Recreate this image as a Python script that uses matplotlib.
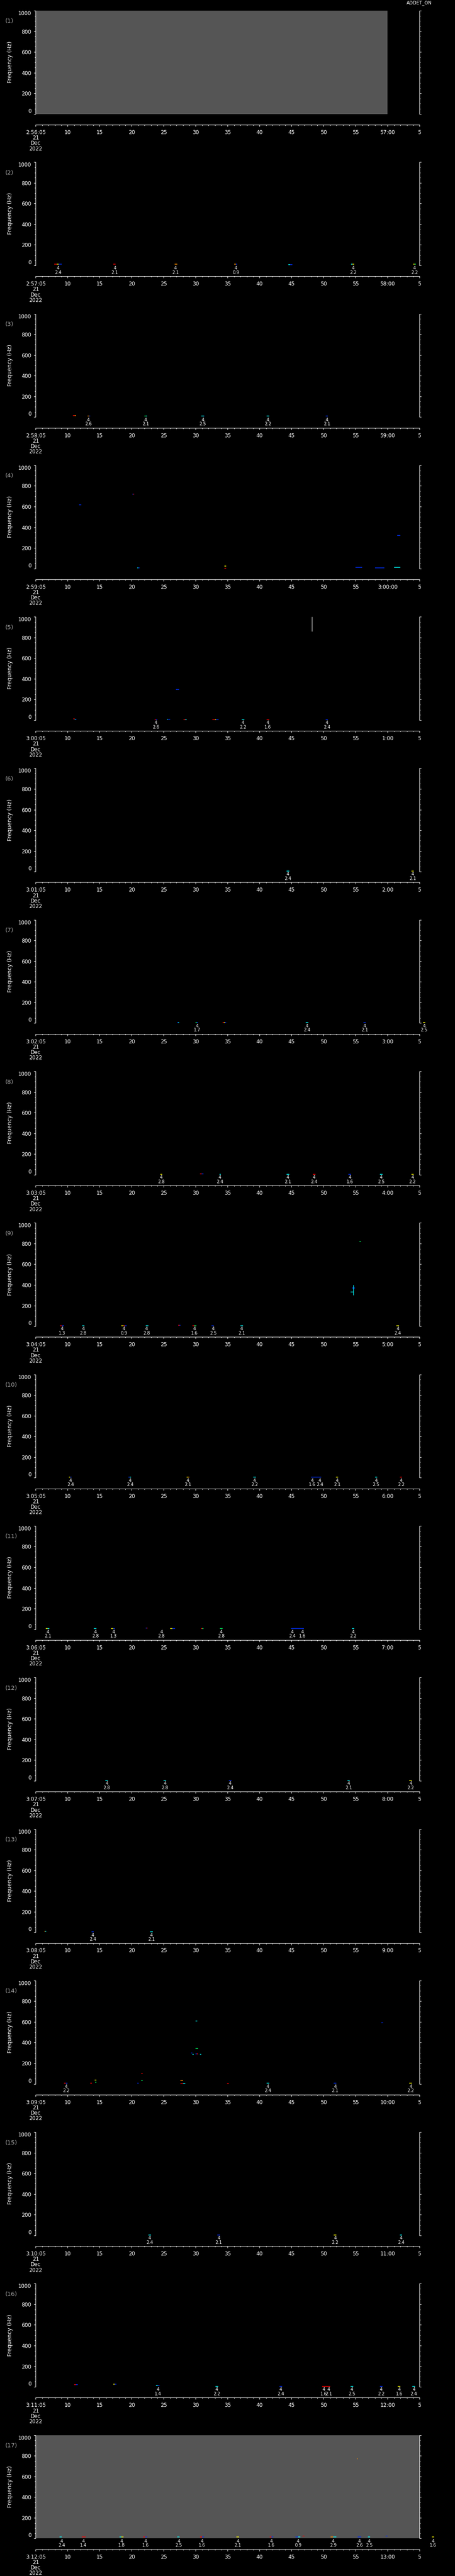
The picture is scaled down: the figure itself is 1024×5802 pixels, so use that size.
import matplotlib
matplotlib.use("Agg")
import matplotlib.pyplot as plt
from matplotlib.ticker import FixedLocator, MultipleLocator
from matplotlib.transforms import blended_transform_factory

# Figure geometry (pixels)
W, H = 1024, 5802
N_PANELS = 17
SLOT = H / N_PANELS
X0, X1 = 80.3, 944.3

# Panel start times (each panel covers 60 s starting at hh:mm:05)
start_hours = [2, 2, 2, 2, 3, 3, 3, 3, 3, 3, 3, 3, 3, 3, 3, 3, 3]
start_minutes = [56, 57, 58, 59, 0, 1, 2, 3, 4, 5, 6, 7, 8, 9, 10, 11, 12]

freq_ticks = [0, 200, 400, 600, 800, 1000]

# no-data (grey) spans per panel, seconds from panel start
nodata = {1: (0, 55), 17: (0, 60)}

# detections: (seconds from panel start, value); every one is tagged "4"
events = {
    2: [(3.5, 2.4), (12.35, 2.1), (21.85, 2.1), (31.3, 0.9), (49.6, 2.2), (59.2, 2.2)],
    3: [(8.24, 2.6), (17.2, 2.1), (26.1, 2.5), (36.3, 2.2), (45.5, 2.1)],
    5: [(18.8, 2.6), (32.4, 2.2), (36.3, 1.6), (45.5, 2.4)],
    6: [(39.4, 2.4), (58.9, 2.1)],
    7: [(25.26, 1.7), (42.4, 2.4), (51.4, 2.1), (60.7, 2.5)],
    8: [(19.6, 2.8), (28.8, 2.4), (39.4, 2.1), (43.5, 2.4), (49.1, 1.6), (54.0, 2.5),
        (58.9, 2.2)],
    9: [(4.14, 1.3), (7.44, 2.8), (13.78, 0.9), (17.34, 2.8), (24.84, 1.6), (27.73, 2.5),
        (32.2, 2.1), (56.6, 2.4)],
    10: [(5.43, 2.4), (14.75, 2.4), (23.8, 2.1), (34.2, 2.2), (43.2, 1.6), (44.4, 2.4),
         (47.1, 2.1), (53.2, 2.5), (57.1, 2.2)],
    11: [(1.9, 2.1), (9.33, 2.8), (12.17, 1.3), (19.65, 2.8), (29.0, 2.8), (40.1, 2.4),
         (41.7, 1.6), (49.6, 2.2)],
    12: [(11.1, 2.8), (20.2, 2.8), (30.4, 2.4), (48.9, 2.1), (58.6, 2.2)],
    13: [(8.9, 2.4), (18.1, 2.1)],
    14: [(4.74, 2.2), (36.3, 2.4), (46.8, 2.1), (58.6, 2.2)],
    15: [(17.8, 2.4), (28.6, 2.1), (46.8, 2.2), (57.1, 2.4)],
    16: [(19.1, 1.4), (28.3, 2.2), (38.3, 2.4), (45.0, 1.6), (45.8, 2.1), (49.4, 2.5),
         (54.0, 2.2), (56.8, 1.6), (59.1, 2.4)],
    17: [(4.04, 2.4), (7.47, 1.4), (13.4, 1.8), (17.2, 1.6), (22.35, 2.5), (26.0, 1.6),
         (31.6, 2.1), (36.8, 1.6), (41.0, 0.9), (46.5, 2.9), (50.6, 2.6), (52.1, 2.5),
         (62.1, 1.6)],
}

# spectrogram blips: (t start, t end, frequency Hz, colour code)
blips = {
    2: [(2.9, 3.3, 12, "r"), (3.3, 3.6, 12, "y"), (3.6, 4.1, 12, "b"), (12.1, 12.5, 12, "r"),
        (21.7, 22.1, 12, "o"), (31.0, 31.3, 12, "o"), (31.3, 31.5, 12, "b"),
        (39.5, 39.8, 8, "c"), (39.8, 40.1, 10, "b"), (49.3, 49.5, 12, "c"),
        (49.5, 49.8, 12, "y"), (59.0, 59.2, 12, "y"), (59.2, 59.4, 12, "g")],
    3: [(5.8, 6.1, 12, "r"), (6.1, 6.3, 12, "o"), (8.1, 8.4, 8, "o"), (8.4, 8.5, 8, "b"),
        (17.0, 17.3, 8, "g"), (17.3, 17.4, 8, "c"), (25.9, 26.3, 8, "c"), (26.3, 26.4, 8, "b"),
        (36.1, 36.5, 8, "c"), (45.3, 45.7, 8, "b")],
    4: [(6.8, 7.1, 619, "b"), (15.1, 15.25, 721, "b"), (15.25, 15.4, 721, "r"),
        (15.9, 16.05, 8, "c"), (16.05, 16.2, 8, "b"), (29.5, 29.8, 25, "y"), (29.5, 29.8, 4, "r"),
        (50.0, 51.0, 10, "b"), (53.0, 54.5, 8, "b"), (56.0, 57.0, 12, "c"),
        (56.5, 57.0, 320, "b")],
    5: [(5.9, 6.1, 12, "r"), (6.1, 6.2, 10, "c"), (6.2, 6.4, 10, "b"), (18.6, 18.8, 5, "r"),
        (18.8, 19.0, 5, "b"), (20.5, 20.7, 10, "c"), (20.7, 21.0, 10, "b"),
        (21.9, 22.4, 296, "b"), (23.1, 23.35, 5, "r"), (23.35, 23.6, 5, "c"),
        (27.6, 28.0, 5, "r"), (28.0, 28.2, 5, "y"), (28.2, 28.6, 5, "b"),
        (32.2, 32.6, 5, "c"), (36.1, 36.5, 5, "r"), (45.3, 45.7, 5, "b")],
    6: [(39.2, 39.6, 5, "c"), (58.7, 59.1, 5, "y")],
    7: [(22.1, 22.25, 5, "b"), (22.25, 22.4, 5, "c"), (25.0, 25.2, 5, "g"), (25.2, 25.4, 5, "b"),
        (29.2, 29.4, 5, "r"), (29.4, 29.55, 5, "y"), (29.55, 29.8, 5, "b"),
        (42.2, 42.6, 5, "c"), (51.2, 51.6, 5, "b"), (60.5, 60.9, 5, "y")],
    8: [(19.5, 19.8, 5, "y"), (25.7, 25.95, 8, "r"), (25.95, 26.2, 8, "b"), (28.7, 28.95, 5, "c"),
        (39.2, 39.6, 5, "c"), (43.3, 43.7, 5, "r"), (48.9, 49.3, 5, "b"), (53.8, 54.2, 5, "c"),
        (58.7, 59.1, 5, "y")],
    9: [(3.8, 4.1, 5, "r"), (4.1, 4.4, 5, "b"), (7.25, 7.6, 5, "c"), (13.4, 13.7, 5, "y"),
        (13.7, 13.95, 5, "r"), (13.95, 14.2, 5, "b"), (17.2, 17.6, 5, "c"),
        (22.3, 22.45, 10, "r"), (22.45, 22.6, 10, "b"), (24.5, 24.8, 5, "r"),
        (24.8, 25.1, 5, "g"), (27.5, 27.8, 5, "b"), (32.0, 32.4, 5, "c"),
        (56.4, 56.8, 5, "y"), (49.2, 49.6, 330, "c"), (49.4, 49.9, 370, "b"),
        (50.6, 50.8, 820, "g")],
    10: [(5.2, 5.4, 5, "y"), (5.4, 5.6, 5, "b"), (14.5, 14.7, 5, "b"), (14.7, 14.9, 5, "c"),
         (23.6, 23.8, 5, "y"), (23.8, 24.0, 5, "o"), (34.0, 34.4, 5, "c"), (43.0, 44.6, 5, "b"),
         (46.9, 47.3, 5, "y"), (53.0, 53.4, 5, "c"), (56.9, 57.3, 5, "r")],
    11: [(1.6, 1.85, 5, "y"), (1.85, 2.1, 5, "c"), (9.1, 9.5, 5, "c"), (11.8, 12.1, 5, "y"),
         (12.1, 12.4, 5, "b"), (17.2, 17.35, 12, "b"), (17.35, 17.5, 12, "r"),
         (21.05, 21.4, 6, "y"), (21.4, 21.8, 8, "b"), (25.8, 26.0, 5, "r"),
         (26.0, 26.2, 5, "g"), (28.8, 29.2, 5, "g"), (39.9, 41.9, 5, "b"), (49.4, 49.8, 5, "c")],
    12: [(10.9, 11.3, 5, "c"), (20.0, 20.4, 5, "c"), (30.2, 30.6, 5, "b"), (48.7, 49.1, 5, "c"),
         (58.4, 58.8, 5, "y")],
    13: [(1.37, 1.5, 8, "o"), (1.5, 1.64, 8, "c"), (8.75, 9.1, 5, "b"), (17.9, 18.3, 5, "c")],
    14: [(4.4, 4.7, 5, "r"), (4.7, 5.0, 5, "b"), (8.5, 8.8, 6, "r"), (9.2, 9.5, 35, "y"),
         (9.3, 9.5, 15, "g"), (15.85, 16.1, 6, "b"), (16.5, 16.7, 103, "r"),
         (16.5, 16.7, 31, "g"), (22.6, 23.0, 31, "o"), (22.6, 23.0, 2, "r"),
         (23.0, 23.4, 2, "c"), (24.3, 24.5, 300, "b"), (24.5, 24.7, 285, "c"),
         (25.0, 25.25, 609, "c"), (25.0, 25.4, 342, "g"), (25.0, 25.2, 292, "b"),
         (25.2, 25.4, 292, "r"), (25.7, 25.9, 285, "c"), (29.9, 30.2, 2, "r"),
         (36.1, 36.5, 5, "c"), (46.6, 47.0, 5, "b"), (54.0, 54.3, 590, "b"), (58.4, 58.8, 5, "y")],
    15: [(17.6, 18.0, 5, "c"), (28.4, 28.8, 5, "b"), (46.6, 47.0, 5, "y"), (56.9, 57.3, 5, "c")],
    16: [(6.0, 6.3, 21, "r"), (6.3, 6.6, 21, "b"), (12.1, 12.35, 28, "y"),
         (12.35, 12.6, 26, "b"), (18.8, 19.1, 12, "c"), (19.1, 19.35, 12, "b"),
         (28.1, 28.5, 5, "c"), (38.1, 38.5, 5, "b"), (44.8, 46.0, 5, "r"), (49.2, 49.6, 5, "c"),
         (53.8, 54.2, 5, "b"), (56.6, 57.0, 5, "y"), (58.9, 59.3, 5, "c")],
    17: [(3.7, 4.1, 15, "c"), (7.2, 7.8, 15, "r"), (13.1, 13.4, 15, "c"), (13.4, 13.7, 15, "y"),
         (16.8, 17.1, 15, "r"), (17.1, 17.4, 15, "b"), (22.1, 22.5, 15, "c"),
         (25.7, 26.0, 15, "r"), (26.0, 26.3, 15, "b"), (31.4, 31.8, 15, "y"),
         (36.6, 36.85, 15, "r"), (36.85, 37.1, 15, "b"), (40.6, 41.0, 15, "b"),
         (41.0, 41.4, 15, "c"), (41.7, 42.0, 22, "r"), (46.1, 46.5, 15, "o"),
         (46.5, 47.0, 15, "c"), (50.3, 50.9, 15, "b"), (51.9, 52.3, 15, "c"),
         (54.7, 55.0, 22, "b"), (50.2, 50.35, 770, "o"), (61.9, 62.3, 15, "y")],
}

# short vertical streaks: (t, f low, f high, colour code)
streaks = {5: [(43.2, 860, 1000, "w")], 9: [(49.6, 300, 400, "c")]}

COLOURS = {"r": "#ff0000", "o": "#ff9000", "y": "#ffff00", "g": "#00ff60",
           "c": "#00ffff", "b": "#0030ff", "w": "#d0d0d0"}


def time_labels(hour, minute):
    labels = [f"{hour}:{minute:02d}:05\n21\nDec\n2022"]
    labels += [str(sec) for sec in range(10, 60, 5)]
    if minute + 1 == 60:
        labels.append(f"{hour + 1}:00:00")
    else:
        labels.append(f"{minute + 1}:00")
    labels.append("5")
    return labels


plt.rcParams["font.family"] = ["DejaVu Sans"]
fig = plt.figure(figsize=(W / 100, H / 100), dpi=100, facecolor="black")

px = 0.72  # one pixel in points
for i in range(N_PANELS):
    panel = i + 1
    s = i * SLOT

    # spectrogram area
    ax = fig.add_axes([X0 / W, 1 - (s + 256.7) / H, (X1 - X0) / W, 232.7 / H])
    ax.set_facecolor("black")
    ax.set_xlim(0, 60)
    ax.set_ylim(0, 1000)
    if panel in nodata:
        t0, t1 = nodata[panel]
        ax.axvspan(t0, t1, color="#555555", lw=0)
    for t0, t1, f, c in blips.get(panel, []):
        ax.hlines(f, t0, t1, colors=COLOURS[c], lw=1.5 * px, clip_on=False)
    for t, f0, f1, c in streaks.get(panel, []):
        ax.vlines(t, f0, f1, colors=COLOURS[c], lw=1.2 * px)

    for side in ["top", "bottom"]:
        ax.spines[side].set_visible(False)
    for side in ["left", "right"]:
        ax.spines[side].set_color("white")
        ax.spines[side].set_linewidth(1.0 * px)
    ax.yaxis.set_major_locator(FixedLocator(freq_ticks))
    ax.yaxis.set_minor_locator(MultipleLocator(50))
    ax.set_yticklabels([str(v) for v in freq_ticks])
    ax.set_xticks([])
    ax.tick_params(axis="y", which="both", direction="out", color="white",
                   labelcolor="white", width=1.0 * px, left=True, right=True,
                   labelleft=True, labelright=False, labelsize=8.5, pad=4.0)
    ax.tick_params(axis="y", which="major", length=4 * px)
    ax.tick_params(axis="y", which="minor", length=2.5 * px)
    yt = ax.yaxis.get_major_ticks()
    yt[0].label1.set_va("bottom")
    yt[-1].label1.set_va("top")

    # time axis below the panel
    tax = fig.add_axes([X0 / W, 1 - (s + 281) / H, (X1 - X0) / W, 0.5 / H])
    tax.patch.set_visible(False)
    tax.set_xlim(0, 60)
    tax.set_yticks([])
    for side in ["top", "left", "right"]:
        tax.spines[side].set_visible(False)
    tax.spines["bottom"].set_color("white")
    tax.spines["bottom"].set_linewidth(1.0 * px)
    tax.xaxis.set_major_locator(FixedLocator(list(range(0, 61, 5))))
    tax.xaxis.set_minor_locator(MultipleLocator(1))
    tax.set_xticklabels(time_labels(start_hours[i], start_minutes[i]), linespacing=0.92)
    tax.tick_params(axis="x", which="both", direction="out", color="white",
                    labelcolor="white", width=1.0 * px, labelsize=8.5, pad=5.0)
    tax.tick_params(axis="x", which="major", length=4 * px)
    tax.tick_params(axis="x", which="minor", length=2.5 * px)

    # detection labels
    trans = blended_transform_factory(tax.transData, fig.transFigure)
    for t, v in events.get(panel, []):
        tax.text(t, 1 - (s + 263) / H, "4", transform=trans, ha="center", va="center",
                 color="white", fontsize=7, clip_on=False)
        tax.text(t, 1 - (s + 272.5) / H, f"{v:.1f}", transform=trans, ha="center",
                 va="center", color="white", fontsize=7, clip_on=False)

    fig.text(23 / W, 1 - (s + 140) / H, "Frequency (Hz)", rotation=90, ha="center",
             va="center", color="white", fontsize=9)
    fig.text(12 / W, 1 - (s + 48) / H, f"({panel})", ha="left", va="center",
             color="#a8a8a8", fontsize=9.5)

fig.text(943.5 / W, 1 - 7 / H, "ADDET_ON", ha="center", va="center", color="white",
         fontsize=7.5)

fig.savefig("out.png", dpi=100, facecolor="black")
